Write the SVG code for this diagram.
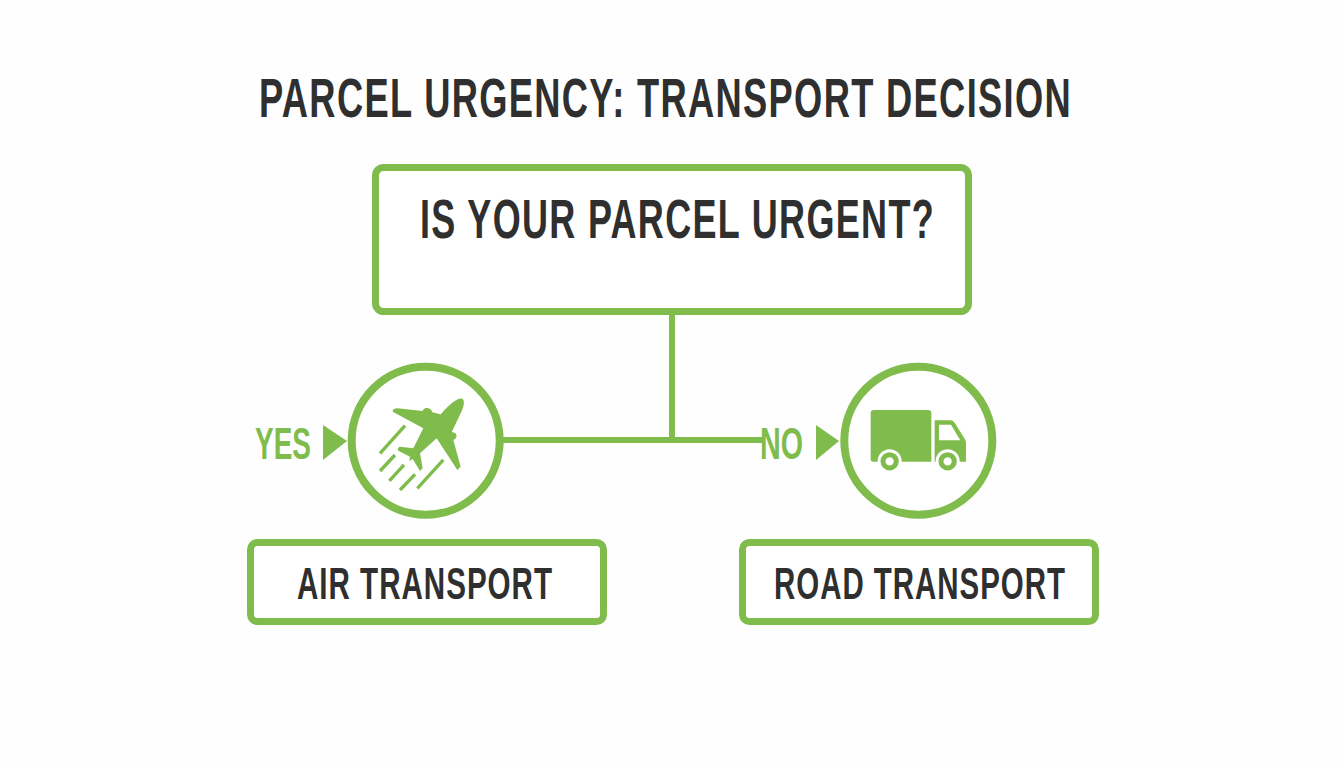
<svg xmlns="http://www.w3.org/2000/svg" width="1344" height="768" viewBox="0 0 1344 768">
<style>
.box{fill:#fff;stroke:#7fbc4c;stroke-width:7}
.ring{fill:#fff;stroke:#7fbc4c;stroke-width:8}
.ln{fill:none;stroke:#7fbc4c;stroke-width:6}
.ic{fill:#7fbc4c}
.t{font-family:"Liberation Sans",Arial,sans-serif;font-weight:700;fill:#2f2f2f}
.g{font-family:"Liberation Sans",Arial,sans-serif;font-weight:700;fill:#7fbc4c}
</style>
<rect width="1344" height="768" fill="#fdfefd"/>
<text id="title" class="t" transform="translate(259 116.500) scale(.661 1)" x="0" y="0" font-size="55" letter-spacing="2" textLength="1230" lengthAdjust="spacingAndGlyphs">PARCEL URGENCY: TRANSPORT DECISION</text>
<g id="connectors">
<path class="ln" d="M672 315V440M500 440H765"/>
</g>
<g id="question">
<rect class="box" x="375.500" y="167.500" width="593" height="144" rx="8"/>
<text class="t" x="420" y="238" font-size="55" letter-spacing="2" textLength="515" lengthAdjust="spacingAndGlyphs">IS YOUR PARCEL URGENT?</text>
</g>
<g id="yes-label">
<text class="g" x="255" y="459" font-size="44" textLength="56" lengthAdjust="spacingAndGlyphs">YES</text>
<path class="ic" d="M323 425L347 441L323 460Z"/>
</g>
<g id="air-icon">
<circle class="ring" cx="425.700" cy="440.700" r="74"/>
<g transform="translate(370 385) scale(.3333)">
<path class="ic" d="M278 42C268 36 245 50 212 88L187 82C185 66 160 64 158 78L82 70Q68 70 68 80L160 130L130 190L90 185Q80 190 85 197L120 215L118 228L128 222L150 258L158 250L150 205L200 160L262 255L272 245L250 165C265 160 262 140 245 142L272 85C282 65 285 48 278 42Z"/>
<path d="M105 122L30 205M75 210L30 258M102 240L58 288M135 268L90 315M220 225L142 310" fill="none" stroke="#7fbc4c" stroke-width="10"/>
</g>
</g>
<g id="no-label">
<text class="g" x="760" y="459" font-size="44" textLength="43" lengthAdjust="spacingAndGlyphs">NO</text>
<path class="ic" d="M816 425L839 441L816 460Z"/>
</g>
<g id="road-icon">
<circle class="ring" cx="918.300" cy="440.700" r="74"/>
<g transform="translate(740 350) scale(.3333)">
<path class="ic" d="M392 190Q392 180 402 180H564Q574 180 574 190V335H400Q392 335 392 327Z"/>
<path class="ic" fill-rule="evenodd" d="M584 211H632Q640 211 645 220L674 266Q678 272 678 280V335H584ZM597 224V271H661L633 224Z"/>
<circle cx="449" cy="334" r="36" fill="#fff"/>
<circle cx="449" cy="334" r="20" fill="none" stroke="#7fbc4c" stroke-width="15"/>
<circle cx="623" cy="334" r="36" fill="#fff"/>
<circle cx="623" cy="334" r="20" fill="none" stroke="#7fbc4c" stroke-width="15"/>
</g>
</g>
<g id="air">
<rect class="box" x="250.500" y="542.500" width="353" height="79" rx="7"/>
<text class="t" x="297" y="599" font-size="45" letter-spacing="1.500" textLength="256" lengthAdjust="spacingAndGlyphs">AIR TRANSPORT</text>
</g>
<g id="road">
<rect class="box" x="742.500" y="542.500" width="353" height="79" rx="7"/>
<text class="t" x="774" y="599" font-size="45" letter-spacing="1.500" textLength="292" lengthAdjust="spacingAndGlyphs">ROAD TRANSPORT</text>
</g>
</svg>
